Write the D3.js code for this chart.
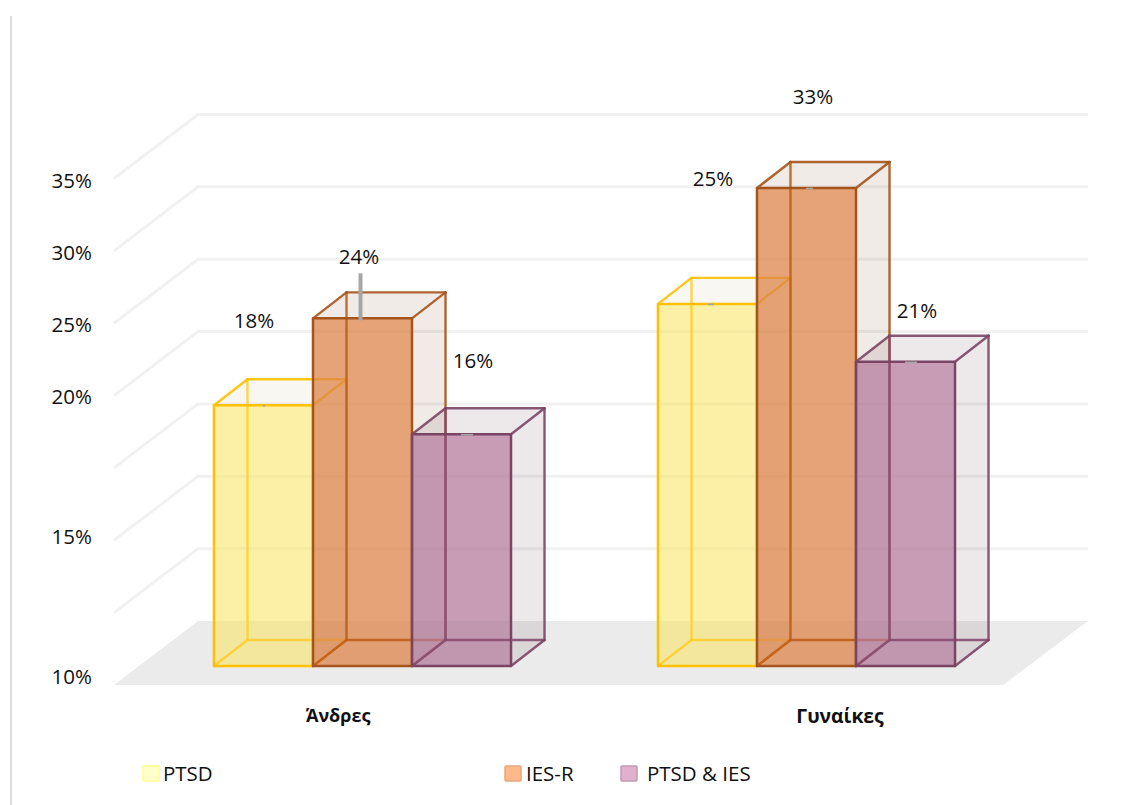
<!DOCTYPE html>
<html lang="el">
<head>
<meta charset="utf-8">
<script src="https://cdn.jsdelivr.net/npm/d3@7/dist/d3.min.js"></script>
<style>
  html, body { margin: 0; padding: 0; background: #fff; }
  svg { display: block; font-family: "Open Sans", sans-serif; }
</style>
</head>
<body>
<svg id="chart" width="1128" height="805"></svg>
<script>
// Values shown on the chart
const categories = ["Άνδρες", "Γυναίκες"];
const seriesNames = ["PTSD", "IES-R", "PTSD & IES"];
const ptsd = [18, 25];
const iesR = [24, 33];
const ptsdIes = [16, 21];
const gridValues = [0, 5, 10, 15, 20, 25, 30, 35];
const axisTicks = [10, 15, 20, 25, 30, 35];

const seriesValues = [ptsd, iesR, ptsdIes];

// Chart geometry: the box is a front plane pushed back by a fixed depth
const depth = { x: 33.5, y: -26 };
const floorFront = { left: 114, right: 1003, y: 685 };
const wall = { dx: 84, dy: -64, backRight: 1088 };
const barBaseY = 666;

const y = d3.scaleLinear().domain([0, 35]).range([0, -506.5]);
const barHeight = d3.scaleLinear().domain([0, 33]).range([0, 478]);
const x0 = d3.scaleBand().domain(categories)
  .range([140.5, 1028.5]).paddingInner(0.331).paddingOuter(0.1655);
const x1 = d3.scaleBand().domain(seriesNames).range([0, x0.bandwidth()]);

// Labels on the value axis are not evenly spaced below 20%
const axisY = d3.scaleLinear().domain([10, 15, 20, 35]).range([676.5, 536.5, 396.5, 180.5]);

const styles = [
  { front: "rgba(251,231,100,0.55)", side: "rgba(175,145,65,0.04)", edge: "#ffc000", inner: "rgba(255,205,40,0.85)", swatch: "#ffffcc", swatchEdge: "#ffff88" },
  { front: "rgba(222,132,70,0.72)",  side: "rgba(135,82,48,0.06)",  edge: "#a5541c", inner: "rgba(190,95,25,0.9)",  swatch: "#fdb98a", swatchEdge: "#eaa67c" },
  { front: "rgba(180,122,155,0.72)", side: "rgba(102,68,88,0.06)",  edge: "#7a4565", inner: "rgba(135,75,110,0.9)", swatch: "#e0b0cc", swatchEdge: "#c09ab0" }
];

// Label placement relative to the centre of each bar's top edge
const labelOffsets = [
  [[-9.5, -84], [5.5, -125]],
  [[-3.5, -62], [6.5, -91]],
  [[11.5, -73], [11.5, -51]]
];
// Short grey leader marks at each bar top: horizontal offset, width, height
const leaderMarks = [
  [{ dx: 0.5, w: 2, h: 0 }, { dx: 3.5, w: 6, h: 0 }],
  [{ dx: -2, w: 0, h: 47 }, { dx: 3, w: 7, h: 0 }],
  [{ dx: 5.5, w: 12, h: 0 }, { dx: 5.5, w: 12, h: 0 }]
];
// Category label placement and size
const categoryLabelStyle = [
  { dx: -24.5, y: 721.5, size: 18 },
  { dx: 33.5, y: 722.5, size: 19.3 }
];

const svg = d3.select("#chart");
const poly = pts => pts.map(p => p.join(",")).join(" ");

// Thin rule at the left of the frame
svg.append("line").attr("x1", 11).attr("x2", 11).attr("y1", 16).attr("y2", 805)
  .attr("stroke", "#dcdcdc").attr("stroke-width", 2);

// Floor of the box
svg.append("polygon")
  .attr("points", poly([
    [floorFront.left, floorFront.y],
    [floorFront.left + wall.dx, floorFront.y + wall.dy],
    [wall.backRight, floorFront.y + wall.dy],
    [floorFront.right, floorFront.y]
  ]))
  .attr("fill", "#ebebeb");

// Gridlines along the side wall and across the back wall
const grid = svg.append("g").attr("fill", "none").attr("stroke", "#f1f1f1").attr("stroke-width", 3);
grid.selectAll("polyline").data(gridValues.slice(1)).join("polyline")
  .attr("points", d => {
    const yy = floorFront.y + y(d);
    return poly([
      [floorFront.left, yy],
      [floorFront.left + wall.dx, yy + wall.dy],
      [wall.backRight, yy + wall.dy]
    ]);
  });

// Value axis
const axis = svg.append("g").attr("transform", "translate(92,0)")
  .call(d3.axisLeft(axisY).tickValues(axisTicks).tickSize(0).tickPadding(0).tickFormat(d => d + "%"));
axis.select(".domain").remove();
axis.selectAll("text").attr("font-size", 20.5).attr("font-family", "'Open Sans', sans-serif").attr("fill", "#111");

// Category labels
svg.append("g").selectAll("text").data(categories).join("text")
  .attr("x", (d, i) => x0(d) + x0.bandwidth() / 2 + categoryLabelStyle[i].dx)
  .attr("y", (d, i) => categoryLabelStyle[i].y)
  .attr("text-anchor", "middle")
  .attr("font-size", (d, i) => categoryLabelStyle[i].size)
  .attr("font-weight", 700).attr("fill", "#111")
  .text(d => d);

// Boxes, drawn series by series so later bars sit over earlier ones
const bars = svg.append("g");
seriesNames.forEach((name, s) => {
  const st = styles[s];
  categories.forEach((cat, c) => {
    const v = seriesValues[s][c];
    const xl = x0(cat) + x1(name);
    const xr = xl + x1.bandwidth();
    const yb = barBaseY;
    const yt = yb - barHeight(v);
    const back = ([px, py]) => [px + depth.x, py + depth.y];
    const fl = [xl, yb], fr = [xr, yb], tl = [xl, yt], tr = [xr, yt];
    const g = bars.append("g").attr("stroke-linejoin", "round").attr("stroke-linecap", "round");

    // Translucent hidden faces: back, left, floor, right, top
    [
      [back(fl), back(fr), back(tr), back(tl)],
      [fl, back(fl), back(tl), tl],
      [fl, fr, back(fr), back(fl)],
      [fr, back(fr), back(tr), tr],
      [tl, tr, back(tr), back(tl)]
    ].forEach(f => g.append("polygon").attr("points", poly(f)).attr("fill", st.side));

    // Front face
    g.append("polygon").attr("points", poly([fl, fr, tr, tl])).attr("fill", st.front);

    // Edges seen through the translucent front
    [
      [back(fl), back(tl)], [back(fl), back(fr)], [fl, back(fl)]
    ].forEach(([a, b]) => g.append("line")
      .attr("x1", a[0]).attr("y1", a[1]).attr("x2", b[0]).attr("y2", b[1])
      .attr("stroke", st.inner).attr("stroke-width", 2.4));

    // Outer rear edges
    [
      [fr, back(fr)], [back(fr), back(tr)], [back(tl), back(tr)], [tl, back(tl)], [tr, back(tr)]
    ].forEach(([a, b]) => g.append("line")
      .attr("x1", a[0]).attr("y1", a[1]).attr("x2", b[0]).attr("y2", b[1])
      .attr("stroke", st.edge).attr("stroke-opacity", 0.9).attr("stroke-width", 2.4));

    // Front outline
    g.append("polygon").attr("points", poly([fl, fr, tr, tl]))
      .attr("fill", "none").attr("stroke", st.edge).attr("stroke-width", 2.5);

    // Leader mark
    const cx = (xl + xr) / 2;
    const m = leaderMarks[s][c];
    if (m.h > 0) {
      g.append("line").attr("x1", cx + m.dx).attr("x2", cx + m.dx)
        .attr("y1", yt + 2).attr("y2", yt + 2 - m.h)
        .attr("stroke", "#a6a6a6").attr("stroke-width", 4).attr("stroke-linecap", "butt");
    } else {
      g.append("line").attr("x1", cx + m.dx - m.w / 2).attr("x2", cx + m.dx + m.w / 2)
        .attr("y1", yt + 0.5).attr("y2", yt + 0.5)
        .attr("stroke", "#a6a6a6").attr("stroke-width", 1.6).attr("stroke-linecap", "butt");
    }
  });
});

// Value labels
seriesNames.forEach((name, s) => {
  categories.forEach((cat, c) => {
    const v = seriesValues[s][c];
    const cx = x0(cat) + x1(name) + x1.bandwidth() / 2;
    const [dx, dy] = labelOffsets[s][c];
    svg.append("text")
      .attr("x", cx + dx).attr("y", barBaseY - barHeight(v) + dy)
      .attr("dy", "0.35em").attr("text-anchor", "middle")
      .attr("font-size", 20.5).attr("fill", "#111")
      .text(v + "%");
  });
});

// Legend
const legendX = d3.scaleOrdinal().domain(seriesNames).range([143, 505, 621]);
const legendGap = d3.scaleOrdinal().domain(seriesNames).range([20, 21, 26]);
const legend = svg.append("g").selectAll("g").data(seriesNames).join("g")
  .attr("transform", d => `translate(${legendX(d)},766)`);
legend.append("rect").attr("width", 16).attr("height", 15).attr("rx", 1)
  .attr("fill", (d, i) => styles[i].swatch)
  .attr("stroke", (d, i) => styles[i].swatchEdge).attr("stroke-width", 1.5);
legend.append("text").attr("x", d => legendGap(d)).attr("y", 7.5).attr("dy", "0.35em")
  .attr("font-size", 20.5).attr("fill", "#111").text(d => d);
</script>
</body>
</html>
